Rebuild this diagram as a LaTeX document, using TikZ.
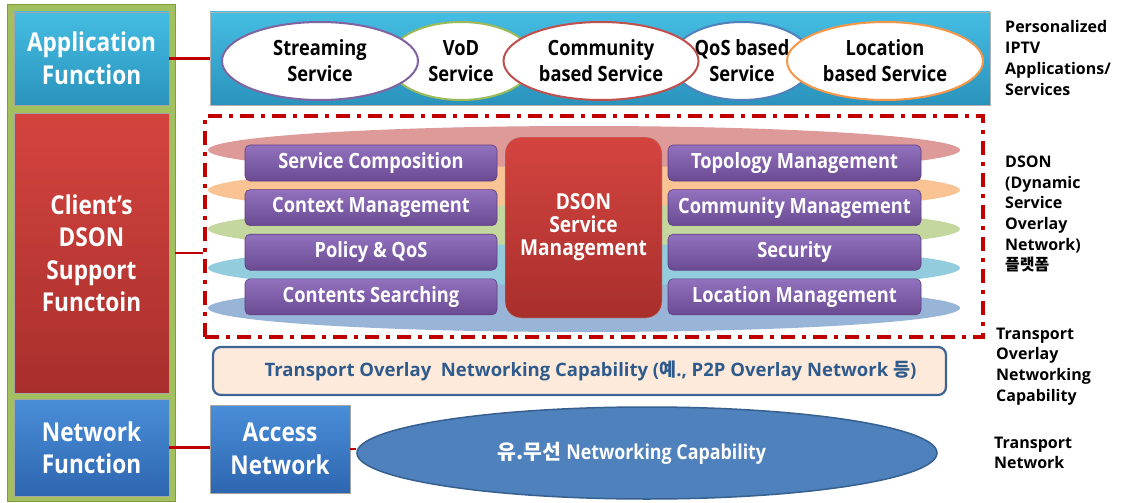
\documentclass[tikz,border=0pt]{standalone}
\usepackage{fontspec}
\setmainfont{Open Sans}[FakeStretch=0.87]
\newfontfamily\labelfont{Open Sans}
\newfontfamily\kr{Noto Sans CJK KR}[FakeStretch=0.87]
\newfontfamily\krlabel{Noto Sans CJK KR}
\usetikzlibrary{positioning,shapes.geometric}

\definecolor{frameGreen}{HTML}{A2C05E}
\definecolor{frameLine}{HTML}{7F9C3E}
\definecolor{appTop}{HTML}{45BDE3}
\definecolor{appBot}{HTML}{2A93BC}
\definecolor{cliTop}{HTML}{D4443F}
\definecolor{cliBot}{HTML}{A82F2C}
\definecolor{netTop}{HTML}{4A8ED8}
\definecolor{netBot}{HTML}{2E66B0}
\definecolor{purTop}{HTML}{9272BE}
\definecolor{purBot}{HTML}{6A4A92}
\definecolor{purLine}{HTML}{5C3F80}
\definecolor{linkRed}{HTML}{C00000}
\definecolor{layPink}{HTML}{DE9A99}
\definecolor{layOrange}{HTML}{F9C393}
\definecolor{layGreen}{HTML}{C4D79E}
\definecolor{layCyan}{HTML}{93CDDD}
\definecolor{layBlue}{HTML}{98B4D6}
\definecolor{tpFill}{HTML}{FDEADA}
\definecolor{tpLine}{HTML}{3C6496}
\definecolor{tpText}{HTML}{2E5A8C}
\definecolor{wireFill}{HTML}{4F81BD}
\definecolor{wireLine}{HTML}{36608F}
\definecolor{svPurple}{HTML}{8064A2}
\definecolor{svGreen}{HTML}{9BBB59}
\definecolor{svRed}{HTML}{C0504D}
\definecolor{svBlue}{HTML}{4F81BD}
\definecolor{svOrange}{HTML}{F79646}

\tikzset{
    block/.style={draw=black!35, line width=0.6pt, text=white, align=center,
        minimum width=155pt, inner sep=0pt,
        font=\bfseries\fontsize{26}{32.5}\selectfont},
    svc/.style={ellipse, draw=#1, line width=2pt, fill=white, align=center,
        minimum height=78pt, inner sep=0pt,
        font=\bfseries\fontsize{21}{26}\selectfont},
    layer/.style={ellipse, fill=#1, minimum width=752pt, minimum height=48pt, inner sep=0pt},
    func/.style={rounded corners=5pt, draw=purLine, line width=0.6pt,
        top color=purTop, bottom color=purBot, text=white,
        minimum width=252pt, minimum height=36pt, inner sep=0pt,
        font=\bfseries\fontsize{21}{22}\selectfont},
    side/.style={anchor=west, align=left, inner sep=0pt,
        font=\labelfont\bfseries\fontsize{16}{20.7}\selectfont},
    link/.style={draw=linkRed, line width=2.5pt}
}

\begin{document}
\begin{tikzpicture}[x=1pt, y=-1pt]
    \useasboundingbox (0,0) rectangle (1125,503);

    % left column
    \node[fill=frameGreen, draw=frameLine, line width=0.8pt, minimum width=168pt, minimum height=497pt] (frame) at (91,252.5) {};
    \node[block, top color=appTop, bottom color=appBot, minimum height=93pt] (app) at (91.5,58.5) {Application\\Function};
    \node[block, top color=cliTop, bottom color=cliBot, minimum height=280pt] (client) at (91.5,253) {Client's\\DSON\\Support\\Functoin};
    \node[block, top color=netTop, bottom color=netBot, minimum height=97pt] (net) at (91.5,447.5) {Network\\Function};

    % application layer
    \node[draw=black!30, top color=appTop, bottom color=appBot, minimum width=780pt, minimum height=93pt] (bar) at (600,58.5) {};
    \node[svc=svGreen, minimum width=146pt] (vod) at (461,61) {VoD\\Service};
    \node[svc=svBlue, minimum width=142pt] (qos) at (742,61) {QoS based\\Service};
    \node[svc=svPurple, minimum width=196pt] (stream) at (320,61) {Streaming\\Service};
    \node[svc=svRed, minimum width=195pt] (comm) at (601,61) {Community\\based Service};
    \node[svc=svOrange, minimum width=196pt] (loc) at (885,61) {Location\\based Service};

    % DSON platform
    \node[layer=layPink] (l1) at (584,150) {};
    \node[layer=layOrange] (l2) at (584,190) {};
    \node[layer=layGreen] (l3) at (584,229) {};
    \node[layer=layCyan] (l4) at (584,268) {};
    \node[layer=layBlue] (l5) at (584,308) {};

    \node[func] (compo) at (371,163) {Service Composition};
    \node[func, below=8pt of compo] (context) {Context Management};
    \node[func, below=8pt of context] (policy) {Policy \& QoS};
    \node[func, below=8pt of policy] (search) {Contents Searching};

    \node[func, minimum width=253pt] (topo) at (794.5,163) {Topology Management};
    \node[func, minimum width=253pt, below=8pt of topo] (commu) {Community Management};
    \node[func, minimum width=253pt, below=8pt of commu] (secu) {Security};
    \node[func, minimum width=253pt, below=8pt of secu] (locm) {Location Management};

    \node[rounded corners=16pt, draw=black!30, top color=cliTop, bottom color=cliBot,
          minimum width=157pt, minimum height=181pt, text=white, align=center,
          font=\bfseries\fontsize{22}{23}\selectfont] (mgmt) at (583.5,227.5) {DSON\\Service\\Management};

    \node[draw=linkRed, line width=3.5pt, dash pattern=on 14pt off 7pt on 4pt off 7pt,
          minimum width=778pt, minimum height=221pt] (dson) at (594,226.5) {};

    % transport
    \node[rounded corners=8pt, draw=tpLine, line width=2.2pt, fill=tpFill, text=tpText,
          minimum width=733pt, minimum height=48pt,
          font=\labelfont\bfseries\fontsize{18.5}{20}\selectfont] (overlay) at (579.5,371)
          {\hspace*{22pt}Transport Overlay\ \ Networking Capability ({\krlabel 예}., P2P Overlay Network {\krlabel 등})};

    \node[block, top color=netTop, bottom color=netBot, minimum width=140pt, minimum height=88pt] (access) at (280,449) {Access\\Network};
    \node[ellipse, draw=wireLine, line width=1.5pt, fill=wireFill, text=white,
          minimum width=580pt, minimum height=92pt, inner sep=0pt,
          font=\bfseries\fontsize{20.5}{22}\selectfont] (wire) at (647,453) {{\krlabel 유.무선} Networking Capability\hspace*{30pt}};

    % connectors
    \draw[link] (app.east) -- (bar.west);
    \draw[link] (client.east -| frame.east) -- (client.east -| dson.west);
    \draw[link] (net.east) -- (net.east -| access.west);
    \draw[link] (access.east) -- (access.east -| wire.west);

    % side labels
    \node[side] (lapp) at (1005,58) {Personalized\\IPTV\\Applications/\\Services};
    \node[side] (ldson) at (1005,214) {DSON\\(Dynamic\\Service\\Overlay\\Network)\\{\krlabel 플랫폼}};
    \node[side] (ltov) at (996,366.5) {Transport\\Overlay\\Networking\\Capability};
    \node[side] (ltn) at (994,453) {Transport\\Network};
\end{tikzpicture}
\end{document}
